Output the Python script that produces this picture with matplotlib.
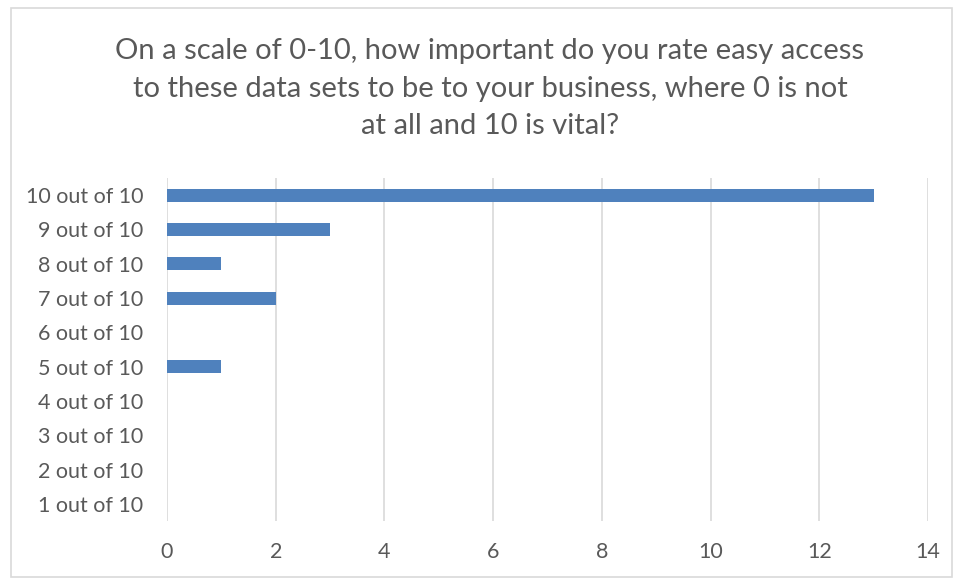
import matplotlib.pyplot as plt
from matplotlib.patches import Rectangle

# -----------------------------
# Datos
# -----------------------------
categorias = ["1 out of 10", "2 out of 10", "3 out of 10", "4 out of 10", "5 out of 10",
              "6 out of 10", "7 out of 10", "8 out of 10", "9 out of 10", "10 out of 10"]
respuestas = [0, 0, 0, 0, 1, 0, 2, 1, 3, 13]
ticks_x = [0, 2, 4, 6, 8, 10, 12, 14]

titulo = ("On a scale of 0-10, how important do you rate easy access\n"
          "to these data sets to be to your business, where 0 is not\n"
          "at all and 10 is vital?")

plt.rcParams['font.family'] = ['Lato', 'DejaVu Sans']
gris_texto = "#595959"
gris_linea = "#D9D9D9"

fig = plt.figure(figsize=(9.55, 5.79), dpi=100)
ax = fig.add_axes([0.1749, 0.1002, 0.7968, 0.5924])

pos = list(range(len(categorias)))
ax.barh(pos, respuestas, height=0.38, color="#4F81BD", zorder=3)

ax.set_xlim(0, 14)
ax.set_ylim(-0.5, len(categorias) - 0.5)
ax.set_xticks(ticks_x)
ax.set_yticks(pos)
ax.set_yticklabels(categorias)
ax.tick_params(axis='y', length=0, pad=17, labelsize=15.5, labelcolor=gris_texto)
ax.tick_params(axis='x', length=0, pad=15, labelsize=15.5, labelcolor=gris_texto)

ax.grid(axis='x', color=gris_linea, linewidth=1.2, zorder=0)
for s in ax.spines.values():
    s.set_visible(False)

fig.text(0.513, 0.934, titulo, ha='center', va='top', fontsize=21,
         color=gris_texto, linespacing=1.55)

# borde del gráfico
fig.patches.append(Rectangle((0.011, 0.004), 0.986, 0.983, transform=fig.transFigure,
                             fill=False, edgecolor=gris_linea, linewidth=1.2))

fig.savefig("out.png", dpi=100)
